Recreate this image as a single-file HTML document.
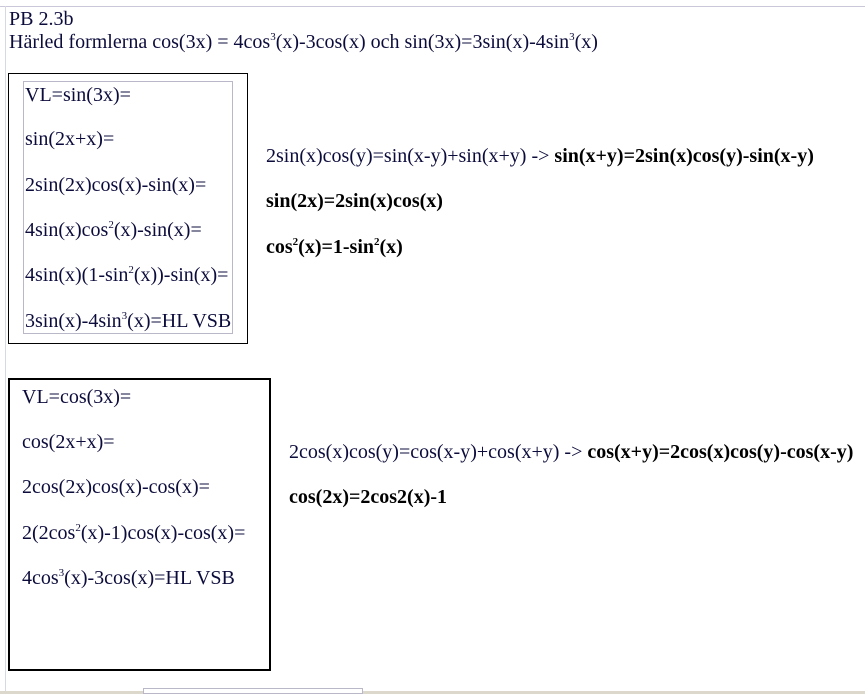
<!DOCTYPE html>
<html><head><meta charset="utf-8"><style>
html,body{margin:0;padding:0;width:865px;height:694px;background:#fff;overflow:hidden;position:relative}
.t{position:absolute;font-family:"Liberation Serif",serif;font-size:20px;letter-spacing:0;color:#0c0c3c;white-space:nowrap;line-height:20px}
.b{font-weight:bold;color:#000}
sup{font-size:11px;vertical-align:8px;line-height:0}
.box{position:absolute;box-sizing:border-box}
</style></head><body>
<div class="box" style="left:0;top:6px;width:865px;height:1px;background:#c8c8d8"></div>
<div class="box" style="left:5px;top:6px;width:1px;height:688px;background:#d8d8e0"></div>
<div class="box" style="left:0;top:691px;width:865px;height:3px;background:#ddd8cc"></div>
<div class="box" style="left:143px;top:688px;width:220px;height:6px;border:1px solid #b8b8c8;background:#fff"></div>

<div class="t" style="left:9px;top:9px">PB 2.3b</div>
<div class="t" style="left:9px;top:32px">Härled formlerna cos(3x) = 4cos<sup>3</sup>(x)-3cos(x) och sin(3x)=3sin(x)-4sin<sup>3</sup>(x)</div>

<div class="box" style="left:8px;top:73px;width:240px;height:271px;border:1px solid #000"></div>
<div class="box" style="left:23px;top:81px;width:210px;height:253px;border:1px solid #b8b8c8"></div>
<div class="t" style="left:25px;top:85px">VL=sin(3x)=</div>
<div class="t" style="left:25px;top:129px">sin(2x+x)=</div>
<div class="t" style="left:25px;top:175px">2sin(2x)cos(x)-sin(x)=</div>
<div class="t" style="left:25px;top:220px">4sin(x)cos<sup>2</sup>(x)-sin(x)=</div>
<div class="t" style="left:25px;top:265px">4sin(x)(1-sin<sup>2</sup>(x))-sin(x)=</div>
<div class="t" style="left:25px;top:311px">3sin(x)-4sin<sup>3</sup>(x)=HL VSB</div>

<div class="t" style="left:266px;top:146px">2sin(x)cos(y)=sin(x-y)+sin(x+y) -&gt; <span class="b">sin(x+y)=2sin(x)cos(y)-sin(x-y)</span></div>
<div class="t b" style="left:266px;top:191px">sin(2x)=2sin(x)cos(x)</div>
<div class="t b" style="left:266px;top:237px">cos<sup>2</sup>(x)=1-sin<sup>2</sup>(x)</div>

<div class="box" style="left:8px;top:378px;width:263px;height:293px;border:2px solid #000"></div>
<div class="t" style="left:22px;top:387px">VL=cos(3x)=</div>
<div class="t" style="left:22px;top:432px">cos(2x+x)=</div>
<div class="t" style="left:22px;top:477px">2cos(2x)cos(x)-cos(x)=</div>
<div class="t" style="left:22px;top:523px">2(2cos<sup>2</sup>(x)-1)cos(x)-cos(x)=</div>
<div class="t" style="left:22px;top:568px">4cos<sup>3</sup>(x)-3cos(x)=HL VSB</div>

<div class="t" style="left:289px;top:442px">2cos(x)cos(y)=cos(x-y)+cos(x+y) -&gt; <span class="b">cos(x+y)=2cos(x)cos(y)-cos(x-y)</span></div>
<div class="t b" style="left:289px;top:487px">cos(2x)=2cos2(x)-1</div>
</body></html>
